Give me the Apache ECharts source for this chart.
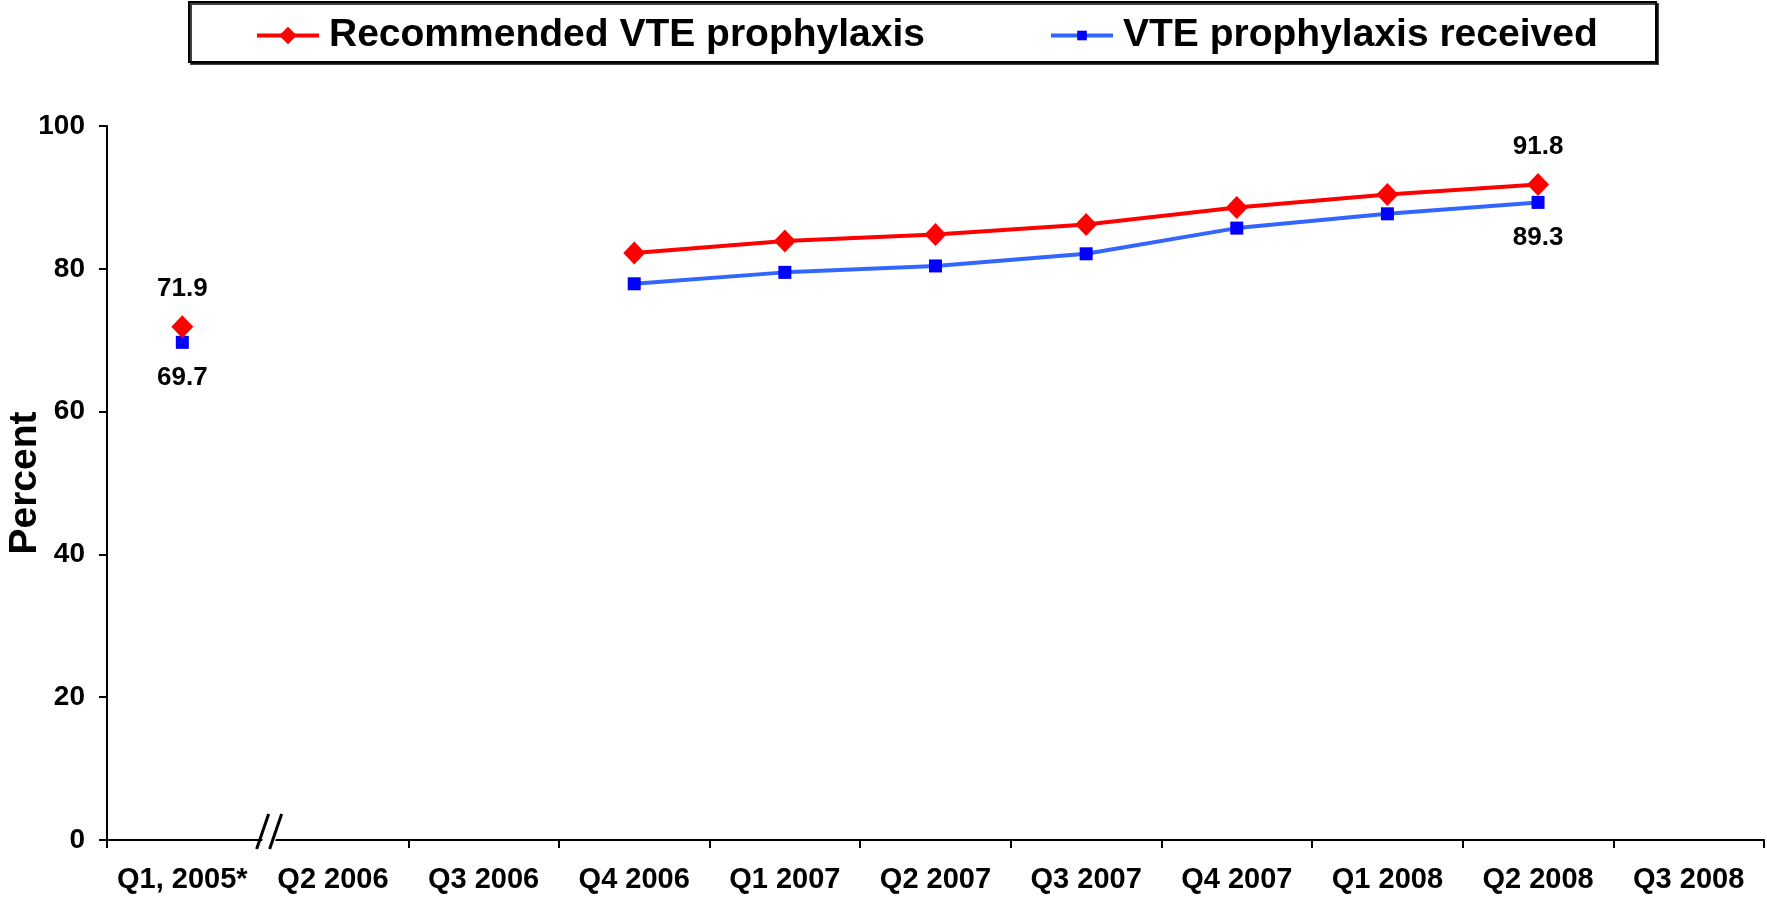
<!DOCTYPE html>
<html>
<head>
<meta charset="utf-8">
<script src="https://cdn.jsdelivr.net/npm/echarts@6/dist/echarts.min.js"></script>
<style>
html,body{margin:0;padding:0;background:#fff;}
#c{width:1767px;height:900px;}
</style>
</head>
<body>
<div id="c"></div>
<script>
var categories = ["Q1, 2005*", "Q2 2006", "Q3 2006", "Q4 2006", "Q1 2007", "Q2 2007", "Q3 2007", "Q4 2007", "Q1 2008", "Q2 2008", "Q3 2008"];
var recommended = [71.9, null, null, 82.2, 83.9, 84.8, 86.2, 88.6, 90.4, 91.8, null];
var received = [69.7, null, null, 77.9, 79.5, 80.4, 82.1, 85.7, 87.7, 89.3, null];
var labeledIdx = [0, 9];
var yTicks = {min: 0, max: 100, interval: 20};
var seriesNames = ['Recommended VTE prophylaxis', 'VTE prophylaxis received'];

var FONT = "'Liberation Sans', Arial, sans-serif";

function buildData(arr, pos) {
  return arr.map(function (v, i) {
    if (labeledIdx.indexOf(i) >= 0 && v != null) {
      return {value: v, label: {show: true, position: pos, distance: pos === 'top' ? 13 : 16,
        formatter: function (p) { return p.value.toFixed(1); },
        fontSize: 26, fontWeight: 'bold', fontFamily: FONT, color: '#000'}};
    }
    return v;
  });
}

var legendText = {fontSize: 39, fontWeight: 'bold', fontFamily: FONT, color: '#000', lineHeight: 39, padding: [0, 0, 0, 5]};

var chart = echarts.init(document.getElementById('c'), null, {renderer: 'canvas'});
var option = {
  animation: false,
  backgroundColor: '#fff',
  grid: {left: 107, right: 3, top: 126, bottom: 60, containLabel: false, outerBoundsMode: 'none'},
  legend: [
    {
      left: 255, top: 16, padding: 0,
      itemWidth: 62, itemHeight: 22,
      lineStyle: {width: 4},
      textStyle: legendText,
      data: [seriesNames[0]]
    },
    {
      left: 1049, top: 16, padding: 0,
      itemWidth: 62, itemHeight: 12,
      lineStyle: {width: 4},
      textStyle: legendText,
      data: [seriesNames[1]]
    }
  ],
  xAxis: {
    type: 'category',
    data: categories,
    boundaryGap: true,
    axisLine: {lineStyle: {color: '#000', width: 2}},
    axisTick: {show: true, length: 8, lineStyle: {color: '#000', width: 2},
      interval: function (idx) { return idx !== 1; }},
    axisLabel: {interval: 0, margin: 25, fontSize: 29, fontWeight: 'bold', fontFamily: FONT, color: '#000'},
    splitLine: {show: false}
  },
  yAxis: {
    type: 'value',
    min: yTicks.min, max: yTicks.max, interval: yTicks.interval,
    name: 'Percent', nameLocation: 'middle', nameGap: 62, nameRotate: 90, nameMoveOverlap: false,
    nameTextStyle: {fontSize: 39, fontWeight: 'bold', fontFamily: FONT, color: '#000'},
    axisLine: {show: true, lineStyle: {color: '#000', width: 2}},
    axisTick: {show: true, length: 8, lineStyle: {color: '#000', width: 2}},
    axisLabel: {margin: 22, fontSize: 28, fontWeight: 'bold', fontFamily: FONT, color: '#000'},
    splitLine: {show: false}
  },
  series: [
    {
      name: seriesNames[0],
      type: 'line',
      data: buildData(recommended, 'top'),
      connectNulls: false,
      symbol: 'diamond', symbolSize: [22, 23],
      lineStyle: {color: '#FF0000', width: 4},
      itemStyle: {color: '#FF0000'},
      z: 3
    },
    {
      name: seriesNames[1],
      type: 'line',
      data: buildData(received, 'bottom'),
      connectNulls: false,
      symbol: 'rect', symbolSize: 13,
      lineStyle: {color: '#3366FF', width: 4},
      itemStyle: {color: '#0000FF'},
      z: 2
    }
  ]
};
chart.setOption(option);

// axis break marks "//" between the first and second category, and the legend frame
var c0 = chart.convertToPixel({xAxisIndex: 0}, categories[0]);
var c1 = chart.convertToPixel({xAxisIndex: 0}, categories[1]);
var yAx = chart.convertToPixel({yAxisIndex: 0}, 0);
var bx = (c0 + c1) / 2;
var s1 = bx + 5, s2 = bx + 18;
chart.setOption({
  graphic: [
    {type: 'rect', shape: {x: 189, y: 2, width: 1467, height: 60},
      style: {fill: '#fff', stroke: '#000', lineWidth: 2, shadowColor: 'rgba(0,0,0,0.75)', shadowOffsetX: 2, shadowOffsetY: 2, shadowBlur: 0}, z: -10},
    {type: 'polygon', shape: {points: [[s1 - 6, yAx + 17], [s1 + 6, yAx - 18], [s2 + 6, yAx - 18], [s2 - 6, yAx + 17]]},
      style: {fill: '#fff'}, z: 100},
    {type: 'line', shape: {x1: s1 - 6, y1: yAx + 9, x2: s1 + 6, y2: yAx - 26}, style: {stroke: '#000', lineWidth: 3}, z: 101},
    {type: 'line', shape: {x1: s2 - 6, y1: yAx + 9, x2: s2 + 6, y2: yAx - 26}, style: {stroke: '#000', lineWidth: 3}, z: 101}
  ]
});
</script>
</body>
</html>
